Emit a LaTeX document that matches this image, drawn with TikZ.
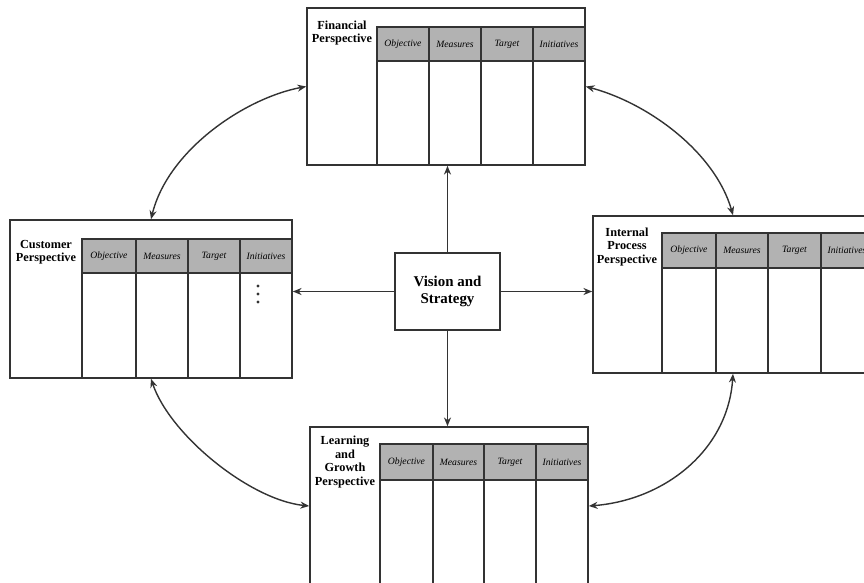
\documentclass[tikz,border=0pt]{standalone}
\usepackage{fontspec}
\setmainfont{Liberation Serif}
\usetikzlibrary{arrows.meta,fit}

\tikzset{
  persp/.style={draw=black!80, line width=0.9pt, inner sep=0pt},
  headrow/.style={draw=black!80, line width=0.9pt, fill=black!30, inner sep=0pt},
  rule/.style={draw=black!80, line width=0.9pt},
  colhead/.style={font=\fontsize{5.5}{6}\selectfont\itshape, inner sep=0pt},
  plabel/.style={font=\fontsize{7}{7.6}\selectfont\bfseries, align=center, inner sep=0pt},
  spoke/.style={draw=black!80, line width=0.8pt, -{Stealth[length=5pt,width=4pt]}},
  link/.style={draw=black!80, line width=0.8pt, {Stealth[length=5pt,width=4pt]}-{Stealth[length=5pt,width=4pt]}}
}

\begin{document}
\begin{tikzpicture}[x=0.2mm,y=-0.2mm]
\useasboundingbox (0,0) rectangle (864,582);
\clip (0,0) rectangle (864,582);

\node[persp, fit={(307,8) (585,165)}] (fin) {};
\node[headrow, fit={(377,27) (585,61)}] (finhead) {};
\foreach \a/\b/\t [count=\i] in {377/429/Objective,429/481/Measures,481/533/Target,533/585/Initiatives} {
        \draw[rule] (\a,27) -- (\a,165);
        \node[colhead] (fin\i) at ({(\a+\b)/2},44) {\t};
}
\node[plabel] (finlabel) at (342,33) {Financial\\Perspective};

\node[persp, fit={(10,220) (292,378)}] (cus) {};
\node[headrow, fit={(82,239) (292,273)}] (cushead) {};
\foreach \a/\b/\t [count=\i] in {82/136/Objective,136/188/Measures,188/240/Target,240/292/Initiatives} {
        \draw[rule] (\a,239) -- (\a,378);
        \node[colhead] (cus\i) at ({(\a+\b)/2},256) {\t};
}
\node[plabel] (cuslabel) at (46,252) {Customer\\Perspective};
\foreach \y in {286,294,302}
        \fill[black!80] (258,\y) circle (1.6);

\node[persp, fit={(593,216) (873,373)}] (int) {};
\node[headrow, fit={(662,233) (873,268)}] (inthead) {};
\foreach \a/\b/\t [count=\i] in {662/716/Objective,716/768/Measures,768/821/Target,821/873/Initiatives} {
        \draw[rule] (\a,233) -- (\a,373);
        \node[colhead] (int\i) at ({(\a+\b)/2},250) {\t};
}
\node[plabel] (intlabel) at (627,247) {Internal\\Process\\Perspective};

\node[persp, fit={(310,427) (588,585)}] (lrn) {};
\node[headrow, fit={(380,444) (588,480)}] (lrnhead) {};
\foreach \a/\b/\t [count=\i] in {380/433/Objective,433/484/Measures,484/536/Target,536/588/Initiatives} {
        \draw[rule] (\a,444) -- (\a,585);
        \node[colhead] (lrn\i) at ({(\a+\b)/2},462) {\t};
}
\node[plabel] (lrnlabel) at (345,462) {Learning\\and\\Growth\\Perspective};

\node[persp, fit={(395,253) (500,330)}] (vis) {};
\node[font=\fontsize{8.5}{10}\selectfont\bfseries, align=center] (vistext) at (vis.center) {Vision and\\Strategy};

\draw[spoke] (vis.north) -- (vis.north |- fin.south);
\draw[spoke] (vis.south) -- (vis.south |- lrn.north);
\draw[spoke] (vis.west) -- (vis.west -| cus.east);
\draw[spoke] (vis.east) -- (vis.east -| int.west);

\draw[link] (fin.west) .. controls (245,98) and (168,150) .. (cus.north);
\draw[link] (fin.east) .. controls (648,103) and (715,152) .. (int.north);
\draw[link] (cus.south) .. controls (170,435) and (250,500) .. (lrn.west);
\draw[link] (int.south) .. controls (728,450) and (665,500) .. (lrn.east);

\end{tikzpicture}
\end{document}
